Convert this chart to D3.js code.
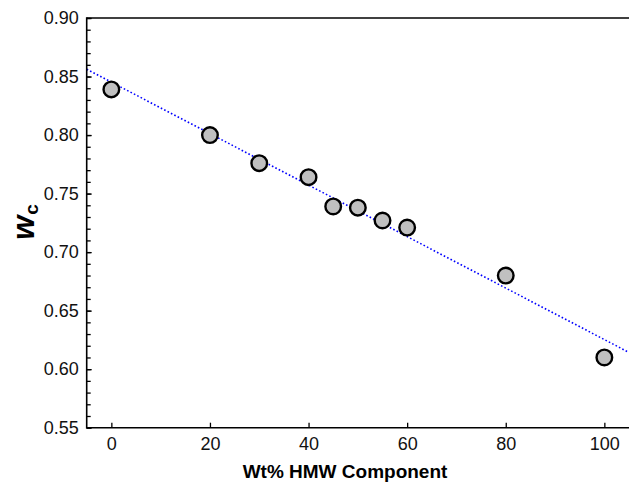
<!DOCTYPE html>
<html><head><meta charset="utf-8">
<script src="https://cdn.jsdelivr.net/npm/d3@7"></script>
<style>
body{margin:0;background:#fff;}
text{font-family:"Liberation Sans",Arial,sans-serif;}
</style></head>
<body><svg id="c" width="629" height="484"></svg>
<script>
const wtPercent = [0, 20, 30, 40, 45, 50, 55, 60, 80, 100];
const wc = [0.839, 0.800, 0.776, 0.764, 0.739, 0.738, 0.727, 0.721, 0.680, 0.610];
const fitX = [-5, 105];
const fitY = [0.8562, 0.6143];
const xTicks = [0, 20, 40, 60, 80, 100];
const yTicks = [0.55, 0.60, 0.65, 0.70, 0.75, 0.80, 0.85, 0.90];
const yMinor = d3.range(55, 91).map(d => d / 100);

const svg = d3.select("#c");
const L = 86.7, R = 629, T = 18, B = 427.7;
const x = d3.scaleLinear().domain([-5, 105]).range([L, R]);
const y = d3.scaleLinear().domain([0.55, 0.90]).range([B, T]);

// fit line
svg.append("path")
  .datum(fitX.map((d, i) => [d, fitY[i]]))
  .attr("d", d3.line().x(d => x(d[0])).y(d => y(d[1])))
  .attr("fill", "none").attr("stroke", "#0000ff")
  .attr("stroke-width", 1.6).attr("stroke-dasharray", "1.6,2.2");

// axes
const xAxis = d3.axisBottom(x).tickValues(xTicks).tickSize(-5).tickPadding(10).tickFormat(d3.format("d"));
const gx = svg.append("g").attr("transform", `translate(0,${B})`).call(xAxis);
gx.select(".domain").remove();
gx.selectAll("line").attr("stroke", "#000").attr("stroke-width", 1.3);
gx.selectAll("text").attr("font-size", 18).attr("fill", "#111");

const yAxisMinor = d3.axisLeft(y).tickValues(yMinor).tickSize(-4).tickFormat("");
const gym = svg.append("g").attr("transform", `translate(${L},0)`).call(yAxisMinor);
gym.select(".domain").remove();
gym.selectAll("line").attr("stroke", "#000").attr("stroke-width", 1.3);

const yAxis = d3.axisLeft(y).tickValues(yTicks).tickSize(-5).tickPadding(8).tickFormat(d3.format(".2f"));
const gy = svg.append("g").attr("transform", `translate(${L},0)`).call(yAxis);
gy.select(".domain").remove();
gy.selectAll("line").attr("stroke", "#000").attr("stroke-width", 1.3);
gy.selectAll("text").attr("font-size", 18).attr("fill", "#111");

// frame lines (left, top, bottom)
svg.append("line").attr("x1", L).attr("x2", L).attr("y1", T - 0.8).attr("y2", B + 0.8).attr("stroke", "#000").attr("stroke-width", 1.6);
svg.append("line").attr("x1", L).attr("x2", R).attr("y1", T).attr("y2", T).attr("stroke", "#000").attr("stroke-width", 1.6);
svg.append("line").attr("x1", L).attr("x2", R).attr("y1", B).attr("y2", B).attr("stroke", "#000").attr("stroke-width", 1.6);

// points
svg.append("g").selectAll("circle").data(wtPercent).join("circle")
  .attr("cx", d => x(d)).attr("cy", (d, i) => y(wc[i]))
  .attr("r", 7.8).attr("fill", "#c0c0c0").attr("stroke", "#000").attr("stroke-width", 2.4);

// labels
svg.append("text").attr("x", 345).attr("y", 478).attr("text-anchor", "middle")
  .attr("font-size", 19).attr("font-weight", "bold").text("Wt% HMW Component");

const yl = svg.append("text").attr("transform", "translate(34,222) rotate(-90)")
  .attr("text-anchor", "middle").attr("font-weight", "bold");
yl.append("tspan").attr("font-size", 31).attr("font-style", "italic").text("w");
yl.append("tspan").attr("font-size", 19).attr("dy", 4).attr("dx", 1).text("c");
</script></body></html>
